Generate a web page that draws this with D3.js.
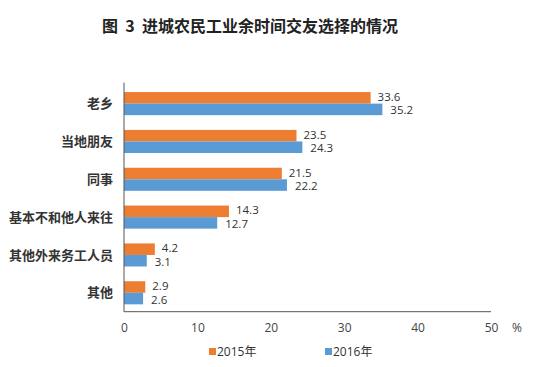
<!DOCTYPE html>
<html><head><meta charset="utf-8">
<script src="https://cdn.jsdelivr.net/npm/d3@7"></script>
<style>body{margin:0;background:#fff;} svg{display:block;}</style>
</head><body>
<svg id="c" width="542" height="367"></svg>
<script>
const categories = ["老乡","当地朋友","同事","基本不和他人来往","其他外来务工人员","其他"];
const series2015 = [33.6,23.5,21.5,14.3,4.2,2.9];
const series2016 = [35.2,24.3,22.2,12.7,3.1,2.6];
const seriesNames = ["2015年","2016年"];
const xTicks = [0,10,20,30,40,50];
const title = "图  3  进城农民工业余时间交友选择的情况";

const colors = ["#ED7D31","#5B9BD5"];
const svg = d3.select("#c");
const m = {left:124, right:491, top:84.7, bottom:311.7};
const x = d3.scaleLinear().domain([0,50]).range([m.left,m.right]);
const y = d3.scaleBand().domain(categories).range([m.top,m.bottom]).paddingInner(0.39).paddingOuter(0.195);
const sub = d3.scaleBand().domain([0,1]).range([0,y.bandwidth()]);

svg.append("text").attr("x",250).attr("y",32).attr("text-anchor","middle")
  .attr("font-family","'Noto Sans CJK SC'").attr("font-weight","bold").attr("font-size",16).attr("fill","#222")
  .attr("xml:space","preserve").style("white-space","pre").text(title);

const data = categories.map((c,i)=>({c, v:[series2015[i],series2016[i]]}));
const g = svg.append("g");
data.forEach(d=>{
  d.v.forEach((v,k)=>{
    g.append("rect").attr("x",x(0)).attr("y",y(d.c)+sub(k)).attr("width",x(v)-x(0)).attr("height",sub.bandwidth()).attr("fill",colors[k]);
    g.append("text").attr("x",x(v)+(k===0?7:8)).attr("y",y(d.c)+sub(k)+sub.bandwidth()/2+(k===0?-1:1)).attr("dy","0.35em")
      .attr("font-family","'Open Sans', sans-serif").attr("font-size",11.5).attr("fill","#333").text(v.toFixed(1));
  });
  svg.append("text").attr("x",113).attr("y",y(d.c)+y.bandwidth()/2).attr("dy","0.36em").attr("text-anchor","end")
    .attr("font-family","'Noto Sans CJK SC'").attr("font-weight","bold").attr("font-size",13).attr("fill","#333").text(d.c);
});

// axes lines
svg.append("line").attr("x1",x(0)).attr("x2",x(0)).attr("y1",m.top-2).attr("y2",m.bottom).attr("stroke","#555").attr("stroke-width",1);
svg.append("line").attr("x1",x(0)).attr("x2",x(50)).attr("y1",m.bottom).attr("y2",m.bottom).attr("stroke","#555").attr("stroke-width",1);

const xa = svg.append("g").attr("transform",`translate(0,${m.bottom})`)
  .call(d3.axisBottom(x).tickValues(xTicks).tickSize(0).tickPadding(12).tickFormat(d3.format("d")));
xa.select(".domain").remove();
xa.selectAll("text").attr("font-family","'Open Sans', sans-serif").attr("font-size",12).attr("fill","#444");
svg.append("text").attr("x",517).attr("y",332).attr("text-anchor","middle").attr("font-family","'Open Sans', sans-serif").attr("font-size",12).attr("fill","#444").text("%");

// legend
const lx = [209,325];
seriesNames.forEach((n,k)=>{
  svg.append("rect").attr("x",lx[k]).attr("y",348).attr("width",7).attr("height",7).attr("fill",colors[k]);
  svg.append("text").attr("x",lx[k]+8).attr("y",352).attr("dy","0.35em").attr("font-family","'Open Sans','Noto Sans CJK SC', sans-serif").attr("font-size",12).attr("fill","#333").text(n);
});
</script>
</body></html>
